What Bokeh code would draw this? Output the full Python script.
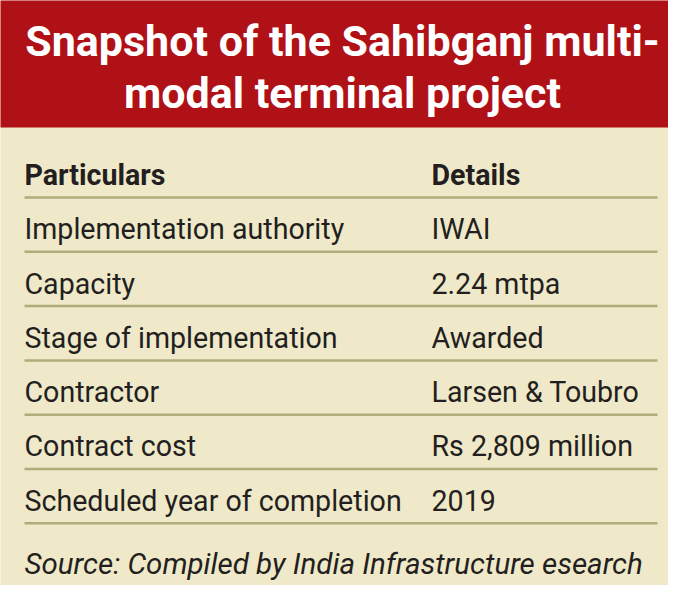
from bokeh.plotting import figure
from bokeh.models import Range1d, ColumnDataSource
from bokeh.core.properties import value
from bokeh.embed import file_html
from bokeh.resources import INLINE

title_lines = ["Snapshot of the Sahibganj multi-", "modal terminal project"]
header = ["Particulars", "Details"]
particulars = ["Implementation authority", "Capacity", "Stage of implementation",
               "Contractor", "Contract cost", "Scheduled year of completion"]
details = ["IWAI", "2.24 mtpa", "Awarded", "Larsen & Toubro",
           "Rs 2,809 million", "2019"]
source = "Source: Compiled by India Infrastructure esearch"

RED = "#b01117"
BG = "#efe9c9"
RULE = "#b3ab7c"
INK = "#231f20"
FONT = "Roboto"
SHIFT = 0.37  # empirical correction of the SVG alphabetic baseline (in em)

W, H = 668, 585
p = figure(width=W, height=H, output_backend="svg", toolbar_location=None,
           x_range=Range1d(0, W), y_range=Range1d(H, 0),
           min_border=0, background_fill_color=BG, border_fill_color=BG,
           outline_line_color=None)
p.axis.visible = False
p.grid.visible = False

def base(y, fs):
    return y - SHIFT * fs

# header band
p.quad(left=[-10], right=[W + 10], top=[-10], bottom=[127], fill_color=RED, line_color=None)

# title
TFS = 43
tsrc = ColumnDataSource(dict(x=[342, 342], y=[base(56, TFS), base(108, TFS)], t=title_lines))
p.text("x", "y", text="t", source=tsrc, text_align="center", text_baseline="alphabetic",
       text_color="white", text_font=value(FONT), text_font_style="bold",
       text_font_size=f"{TFS}px")

# table
BFS = 28.6
x_left, x_right, x_col2 = 24, 657, 431
first_rule, step = 197, 54.3
n = len(particulars)
rules = [first_rule + i * step for i in range(n + 1)]
p.segment(x0=[x_left] * len(rules), x1=[x_right] * len(rules), y0=rules, y1=rules,
          line_color=RULE, line_width=2.5)

hsrc = ColumnDataSource(dict(x=[x_left, x_col2], y=[base(first_rule - 12, BFS)] * 2, t=header))
p.text("x", "y", text="t", source=hsrc, text_align="left", text_baseline="alphabetic",
       text_color=INK, text_font=value(FONT), text_font_style="bold",
       text_font_size=f"{BFS}px")

row_base = [base(r - 12, BFS) for r in rules[1:]]
lsrc = ColumnDataSource(dict(x=[x_left] * n, y=row_base, t=particulars))
p.text("x", "y", text="t", source=lsrc, text_align="left", text_baseline="alphabetic",
       text_color=INK, text_font=value(FONT), text_font_size=f"{BFS}px")
rsrc = ColumnDataSource(dict(x=[x_col2] * n, y=row_base, t=details))
p.text("x", "y", text="t", source=rsrc, text_align="left", text_baseline="alphabetic",
       text_color=INK, text_font=value(FONT), text_font_size=f"{BFS}px")

SFS = 29.5
ssrc = ColumnDataSource(dict(x=[x_left], y=[base(574, SFS)], t=[source]))
p.text("x", "y", text="t", source=ssrc, text_align="left", text_baseline="alphabetic",
       text_color=INK, text_font=value(FONT), text_font_style="italic",
       text_font_size=f"{SFS}px")

open("out.html", "w").write(file_html(p, INLINE))
